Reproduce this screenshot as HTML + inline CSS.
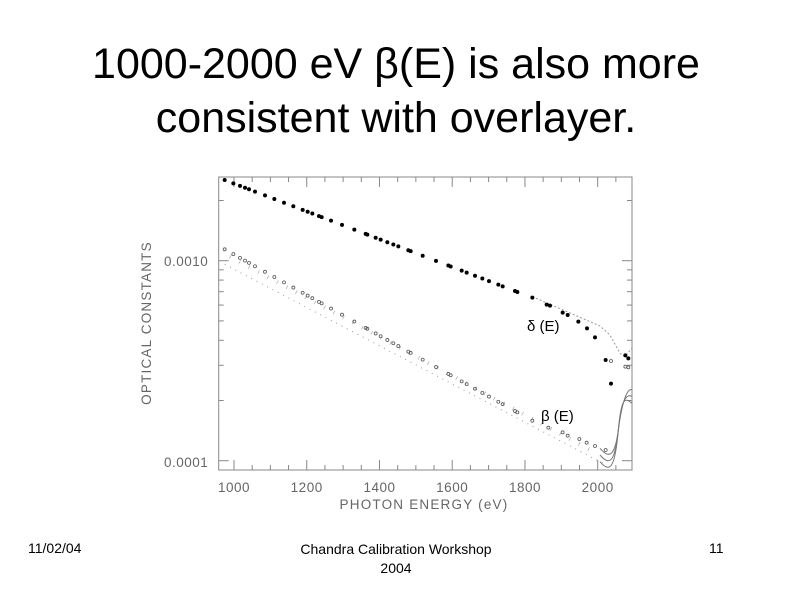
<!DOCTYPE html>
<html><head><meta charset="utf-8"><style>
html,body{margin:0;padding:0;background:#fff;}
body{width:792px;height:612px;position:relative;overflow:hidden;font-family:"Liberation Sans",sans-serif;}
.t{position:absolute;left:0;width:792px;text-align:center;font-size:43px;color:#000;}
.f{position:absolute;font-size:14px;color:#000;}
</style></head><body>
<div class="t" style="top:40px;">1000-2000 eV β(E) is also more</div>
<div class="t" style="top:94px;">consistent with overlayer.</div>
<svg id="s" width="792" height="612" style="position:absolute;left:0;top:0" xmlns="http://www.w3.org/2000/svg">
<rect x="218.7" y="177" width="413.3" height="293" fill="none" stroke="#888" stroke-width="1"/>
<g font-family="Liberation Sans, sans-serif" fill="#666" font-size="13.5">
<text x="164" y="266" letter-spacing="0.5">0.0010</text>
<text x="164" y="467" letter-spacing="0.5">0.0001</text>
<text x="234" y="492" text-anchor="middle" letter-spacing="0.5">1000</text>
<text x="306.7" y="492" text-anchor="middle" letter-spacing="0.5">1200</text>
<text x="379.5" y="492" text-anchor="middle" letter-spacing="0.5">1400</text>
<text x="452.2" y="492" text-anchor="middle" letter-spacing="0.5">1600</text>
<text x="525" y="492" text-anchor="middle" letter-spacing="0.5">1800</text>
<text x="597.7" y="492" text-anchor="middle" letter-spacing="0.5">2000</text>
<text x="424" y="509" text-anchor="middle" letter-spacing="1.2">PHOTON ENERGY (eV)</text>
<text transform="translate(151,323) rotate(-90)" text-anchor="middle" letter-spacing="1.2">OPTICAL CONSTANTS</text>
</g>
<g font-family="Liberation Sans, sans-serif" fill="#000" font-size="15">
<text x="527" y="331">δ (E)</text>
<text x="541" y="421">β (E)</text>
</g>
<g id="g"></g>
</svg>
<div class="f" style="left:28px;top:540px;">11/02/04</div>
<div class="f" style="left:0;width:792px;text-align:center;top:540px;line-height:19px;">Chandra Calibration Workshop<br>2004</div>
<div class="f" style="left:709px;top:540px;">11</div>
<script>
var g=document.getElementById('g'),h='';
function X(z){return 130+z/3;}function Y(z){return 170+z/3;}
var L=218.7,R=632,T=177,B=470;
function yv(v){return 460.7-200*Math.log10(v/1e-4);}
var vals=[];for(var d=1e-4;d<1e-2;d*=10)for(var k=1;k<10;k++)vals.push(k*d);
vals.forEach(function(v){var y=yv(v);if(y<T||y>B)return;var m=(Math.abs(v/1e-4-1)<1e-6||Math.abs(v/1e-3-1)<1e-6);var l=m?10:5;
h+='<line x1="'+L+'" y1="'+y+'" x2="'+(L+l)+'" y2="'+y+'" stroke="#888"/><line x1="'+R+'" y1="'+y+'" x2="'+(R-l)+'" y2="'+y+'" stroke="#888"/>';});
for(var e=1000;e<=2050;e+=50){var x=234+(e-1000)*0.3637;var l=(e%200==0)?10:5;
h+='<line x1="'+x+'" y1="'+B+'" x2="'+x+'" y2="'+(B-l)+'" stroke="#888"/><line x1="'+x+'" y1="'+T+'" x2="'+x+'" y2="'+(T+l)+'" stroke="#888"/>';}
h+='<polyline points="'+X(284)+','+Y(283)+' '+X(1400)+','+Y(870)+' '+X(1420)+','+Y(880)+'" fill="none" stroke="#999" stroke-width="1" stroke-dasharray="1,5"/>';
h+='<polyline points="'+X(300)+','+Y(260)+' '+X(1400)+','+Y(850)+'" fill="none" stroke="#aaa" stroke-width="4" stroke-dasharray="0.7,10"/>';
h+='<polyline points="'+X(1207)+','+Y(380)+' '+X(1410)+','+Y(468)+' '+X(1440)+','+Y(495)+' '+X(1470)+','+Y(550)+' '+X(1485)+','+Y(560)+' '+X(1505)+','+Y(535)+'" fill="none" stroke="#999" stroke-width="1" stroke-dasharray="2,2"/>';
['855','875','895'].forEach(function(b,i){var yb=+b;h+='<path d="M'+X(1410)+','+Y(yb-20)+' C'+X(1440)+','+Y(yb+15)+' '+X(1455)+','+Y(yb)+' '+X(1465)+','+Y(780)+' S'+X(1490)+','+Y(650+i*20)+' '+X(1507)+','+Y(660+i*20)+'" fill="none" stroke="#777" stroke-width="1"/>';});
var dx=[284,310,330,345,357,375,405,433,462,490,518,533,547,567,575,603,636,673,707,712,737,752,772,790,805,835,842,878,918,955,962,995,1010,1035,1057,1077,1105,1118,1155,1162,1207];
dx.forEach(function(z){h+='<circle cx="'+X(z)+'" cy="'+Y(30+(z-284)*0.3825)+'" r="2" fill="#000"/>';});
[[1250,404],[1260,407],[1298,428],[1313,435],[1345,455],[1371,475],[1395,502],[1427,570],[1443,641],[1486,556],[1495,565]].forEach(function(p){h+='<circle cx="'+X(p[0])+'" cy="'+Y(p[1])+'" r="2" fill="#000"/>';});
dx.forEach(function(z){h+='<circle cx="'+X(z)+'" cy="'+Y(238+(z-284)*0.557)+'" r="1.5" fill="none" stroke="#555" stroke-width="0.8"/>';});
[[1255,773],[1298,787],[1313,797],[1348,807],[1370,818],[1395,828],[1427,840],[1443,573],[1486,590],[1495,592]].forEach(function(p){h+='<circle cx="'+X(p[0])+'" cy="'+Y(p[1])+'" r="1.5" fill="none" stroke="#555" stroke-width="0.8"/>';});
g.innerHTML=h;
</script>
</body></html>
